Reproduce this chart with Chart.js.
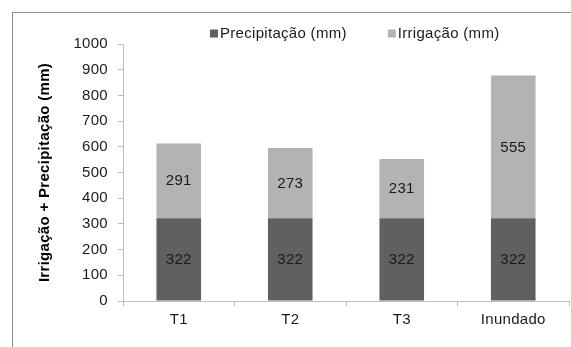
<!DOCTYPE html>
<html>
<head>
<meta charset="utf-8">
<script src="https://cdn.jsdelivr.net/npm/chart.js@4/dist/chart.umd.min.js"></script>
<style>
  html, body { margin: 0; padding: 0; background: #fff; }
  #wrap { position: relative; width: 571px; height: 347px; overflow: hidden; }
  #frame { position: absolute; left: 12px; top: 12px; width: 700px; height: 500px; border: 1px solid #8c8c8c; box-sizing: border-box; }
  canvas { position: absolute; left: 0; top: 0; }
</style>
</head>
<body>
<div id="wrap">
  <div id="frame"></div>
  <canvas id="c" width="571" height="347"></canvas>
</div>
<script>
const categories = ['T1', 'T2', 'T3', 'Inundado'];
const precipitacao = [322, 322, 322, 322];
const irrigacao = [291, 273, 231, 555];
const yTicks = [0, 100, 200, 300, 400, 500, 600, 700, 800, 900, 1000];

const FONT = 'Liberation Sans, Arial, sans-serif';
const AXIS = '#bdbdbd';
const TEXT = '#1a1a1a';
const SPACING = '0.3px';

const canvas = document.getElementById('c');
canvas.getContext('2d').letterSpacing = SPACING;

const spacing = {
  id: 'spacing',
  beforeInit(chart) { chart.ctx.letterSpacing = SPACING; },
  beforeUpdate(chart) { chart.ctx.letterSpacing = SPACING; },
  beforeDraw(chart) { chart.ctx.letterSpacing = SPACING; }
};

const valueLabels = {
  id: 'valueLabels',
  afterDatasetsDraw(chart) {
    const ctx = chart.ctx;
    ctx.save();
    ctx.letterSpacing = SPACING;
    ctx.font = '15px ' + FONT;
    ctx.fillStyle = TEXT;
    ctx.textAlign = 'center';
    ctx.textBaseline = 'middle';
    chart.data.datasets.forEach((ds, i) => {
      const meta = chart.getDatasetMeta(i);
      meta.data.forEach((el, j) => {
        const p = el.getProps(['x', 'y', 'base'], true);
        ctx.fillText(String(ds.data[j]), p.x, (p.y + p.base) / 2 + 0.5);
      });
    });
    ctx.restore();
  }
};

const customLegend = {
  id: 'customLegend',
  afterDraw(chart) {
    const ctx = chart.ctx;
    const area = chart.chartArea;
    ctx.save();
    ctx.letterSpacing = SPACING;
    ctx.font = '15px ' + FONT;
    ctx.textBaseline = 'middle';
    ctx.textAlign = 'left';
    const cy = 33.5;
    const box = 8;
    let x = area.left + 87;
    chart.data.datasets.forEach(ds => {
      ctx.fillStyle = ds.backgroundColor;
      ctx.fillRect(x, cy - box / 2, box, box);
      ctx.fillStyle = TEXT;
      ctx.fillText(ds.label, x + box + 2, cy);
      x += box + 2 + ctx.measureText(ds.label).width + 41;
    });
    ctx.restore();
  }
};

new Chart(canvas, {
  type: 'bar',
  data: {
    labels: categories,
    datasets: [
      { label: 'Precipitação (mm)', data: precipitacao, backgroundColor: '#606060', barPercentage: 0.8, categoryPercentage: 0.5 },
      { label: 'Irrigação (mm)', data: irrigacao, backgroundColor: '#b3b3b3', barPercentage: 0.8, categoryPercentage: 0.5 }
    ]
  },
  options: {
    responsive: false,
    animation: false,
    events: [],
    layout: { padding: { top: 44, right: 2, bottom: 13, left: 0 } },
    plugins: {
      tooltip: { enabled: false },
      legend: { display: false }
    },
    scales: {
      x: {
        stacked: true,
        grid: { display: true, drawOnChartArea: false, drawTicks: true, tickLength: 5, color: AXIS, offset: true },
        border: { color: AXIS, width: 1 },
        ticks: { font: { family: FONT, size: 15 }, color: TEXT, padding: 5 }
      },
      y: {
        stacked: true,
        min: 0, max: 1000,
        afterBuildTicks(axis) { axis.ticks = yTicks.map(v => ({ value: v })); },
        afterFit(axis) { axis.width = 123; },
        grid: { display: true, drawOnChartArea: false, drawTicks: true, tickLength: 5, color: AXIS },
        border: { color: AXIS, width: 1 },
        ticks: { font: { family: FONT, size: 15 }, color: TEXT, padding: 10, callback: v => String(v) },
        title: {
          display: true,
          text: 'Irrigação + Precipitação (mm)',
          font: { family: FONT, size: 15, weight: 'bold' },
          color: '#000',
          padding: { top: 36, bottom: 0 }
        }
      }
    }
  },
  plugins: [spacing, valueLabels, customLegend]
});
</script>
</body>
</html>
